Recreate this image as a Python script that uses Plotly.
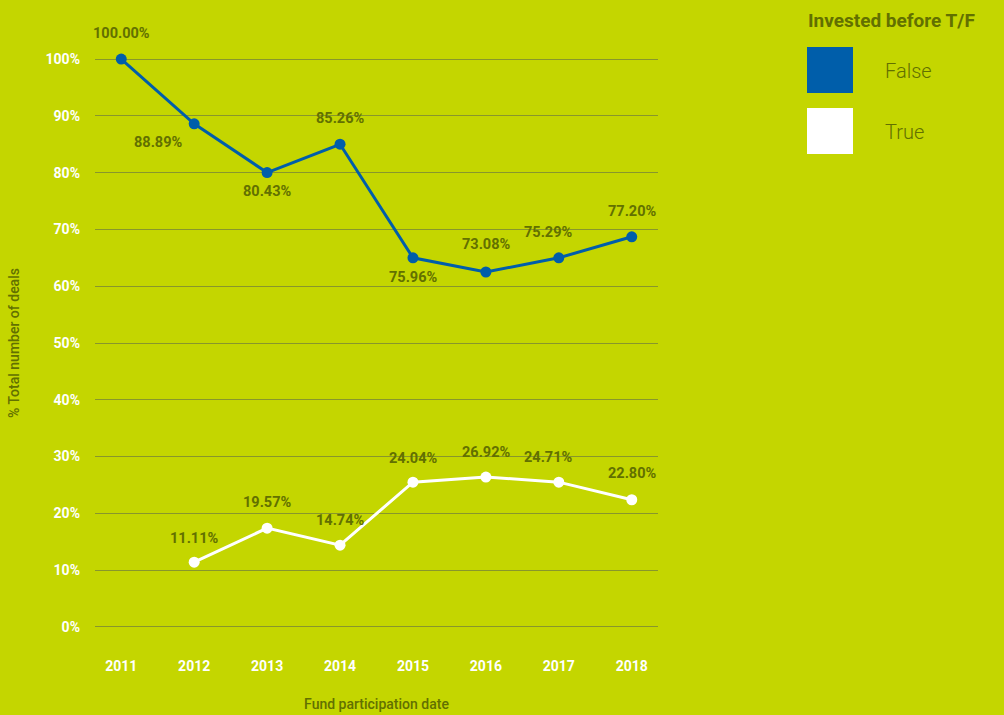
import plotly.graph_objects as go

years = ["2011", "2012", "2013", "2014", "2015", "2016", "2017", "2018"]
false_vals = [100.0, 88.6, 80.0, 85.0, 65.0, 62.5, 65.0, 68.7]
false_labels = ["100.00%", "88.89%", "80.43%", "85.26%", "75.96%", "73.08%", "75.29%", "77.20%"]
true_years = ["2012", "2013", "2014", "2015", "2016", "2017", "2018"]
true_vals = [11.4, 17.4, 14.4, 25.5, 26.4, 25.5, 22.4]
true_labels = ["11.11%", "19.57%", "14.74%", "24.04%", "26.92%", "24.71%", "22.80%"]
y_ticks = [0, 10, 20, 30, 40, 50, 60, 70, 80, 90, 100]
y_tick_text = [f"{v}%" for v in y_ticks]

BG = "#c4d600"
BLUE = "#005eaa"
LABEL = "#627000"
GRID = "#88962c"
FONT = "Roboto"

# label offsets in px (style only)
false_dx = [0, -36, 0, 0, 0, 0, -11, 0]
false_dy = [26, -19, -19, 26, -20, 28, 25, 25]
true_dx = [0, 0, 0, 0, 0, -11, 0]
true_dy = [24, 26, 25, 24, 25, 25, 26]

fig = go.Figure()
fig.add_trace(go.Scatter(
    x=years, y=false_vals, mode="lines+markers", name="False",
    line=dict(color=BLUE, width=3), marker=dict(color=BLUE, size=11),
    cliponaxis=False, showlegend=False, hoverinfo="skip",
))
fig.add_trace(go.Scatter(
    x=true_years, y=true_vals, mode="lines+markers", name="True",
    line=dict(color="white", width=3), marker=dict(color="white", size=11),
    cliponaxis=False, showlegend=False, hoverinfo="skip",
))

annotations = []
for xs, ys, labs, dxs, dys in [(years, false_vals, false_labels, false_dx, false_dy),
                               (true_years, true_vals, true_labels, true_dx, true_dy)]:
    for x, y, t, dx, dy in zip(xs, ys, labs, dxs, dys):
        annotations.append(dict(x=years.index(x), y=y, xref="x", yref="y", text=t, showarrow=False,
                                xshift=dx, yshift=dy, xanchor="center", yanchor="middle",
                                font=dict(family=FONT, size=14.5, color=LABEL, weight="bold")))

W, H = 1004, 715
L, R, T, B = 95, 346, 42, 71
pw, ph = W - L - R, H - T - B


def px_to_paper(x, y):
    return (x - L) / pw, (H - B - y) / ph


shapes = []
legend_items = [("False", BLUE, 47), ("True", "white", 108)]
for name, col, top in legend_items:
    x0, y0 = px_to_paper(807, top + 46)
    x1, y1 = px_to_paper(853, top)
    shapes.append(dict(type="rect", xref="paper", yref="paper", x0=x0, y0=y0, x1=x1, y1=y1,
                       fillcolor=col, line=dict(width=0)))
    tx, ty = px_to_paper(883, top + 24)
    annotations.append(dict(xref="paper", yref="paper", x=tx, y=ty, text=name, showarrow=False,
                            xanchor="left", yanchor="middle",
                            font=dict(family=FONT, size=20, color=LABEL, weight=300)))
tx, ty = px_to_paper(806, 20)
annotations.append(dict(xref="paper", yref="paper", x=tx, y=ty, text="<b>Invested before T/F</b>",
                        showarrow=False, xanchor="left", yanchor="middle",
                        font=dict(family=FONT, size=19, color=LABEL)))

fig.update_layout(
    width=W, height=H,
    paper_bgcolor=BG, plot_bgcolor=BG,
    margin=dict(l=L, r=R, t=T, b=B, autoexpand=False),
    shapes=shapes, annotations=annotations,
    hovermode=False,
    xaxis=dict(type="category", range=[-0.36, 7.36], showgrid=False, zeroline=False,
               showline=False, ticks="", ticklabelstandoff=12, automargin=False,
               tickfont=dict(family=FONT, size=14, color="white", weight="bold"),
               title=dict(text="Fund participation date", standoff=26,
                          font=dict(family=FONT, size=14, color=LABEL, weight=500))),
    yaxis=dict(range=[-3, 103], tickvals=y_ticks, ticktext=y_tick_text,
               showgrid=True, gridcolor=GRID, gridwidth=1, zeroline=False, showline=False,
               ticks="", ticklabelstandoff=14, automargin=True,
               tickfont=dict(family=FONT, size=14, color="white", weight="bold"),
               title=dict(text="% Total number of deals", standoff=22,
                          font=dict(family=FONT, size=14, color=LABEL, weight=500))),
    font=dict(family=FONT),
)
fig.write_html("out.html", config={"displayModeBar": False},
               post_script="document.body.style.margin='0';document.body.style.padding='0';")
